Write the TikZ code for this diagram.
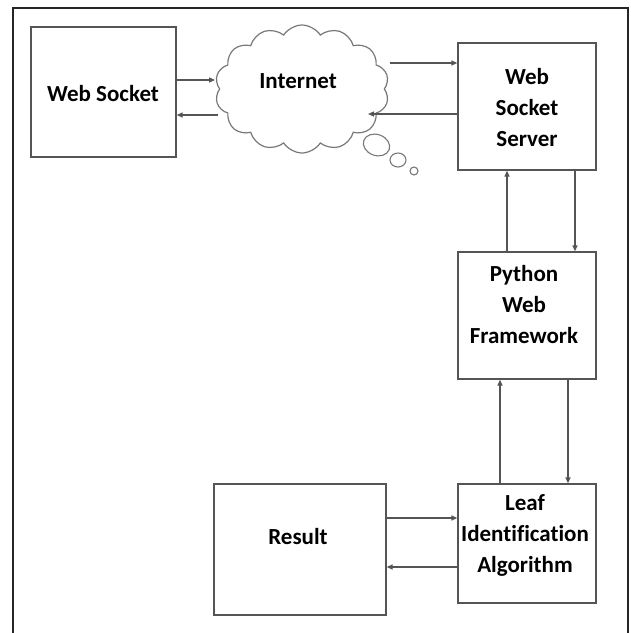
\documentclass[tikz,border=0pt]{standalone}
\usepackage{fontspec}
\setmainfont{Carlito}[Ligatures=NoCommon]
\usetikzlibrary{shapes.symbols,shapes.geometric,arrows.meta}
\definecolor{boxc}{RGB}{85,85,85}
\definecolor{cloudc}{RGB}{120,120,120}
\begin{document}
\begin{tikzpicture}[x=1pt,y=-1pt,
 box/.style={draw=boxc, line width=1.3pt, fill=white, inner sep=0pt},
 lbl/.style={font=\fontsize{23}{31}\selectfont\bfseries, align=center, text=black, inner sep=0pt},
 arr/.style={draw=boxc, line width=1.3pt, -{Triangle[length=6pt,width=5pt]}},
 bub/.style={draw=cloudc, line width=1.1pt, ellipse, inner sep=0pt}]

\useasboundingbox (0,0) rectangle (631,633);
\fill[white] (0,0) rectangle (631,633);
\draw[line width=1.5pt, black!85] (13,633) -- (13,8) -- (628,8) -- (628,633);

% boxes
\node[box, minimum width=145pt, minimum height=130pt] (ws) at (103.5,92) {};
\node[box, minimum width=138pt, minimum height=127pt] (wss) at (527,106.5) {};
\node[box, minimum width=138pt, minimum height=127pt] (pwf) at (527,315.5) {};
\node[box, minimum width=138pt, minimum height=119pt] (lia) at (527,543.5) {};
\node[box, minimum width=172pt, minimum height=131pt] (res) at (300,549.5) {};

% cloud
\node[cloud, draw=cloudc, line width=1.2pt, cloud puffs=14, cloud puff arc=115,
      aspect=1.37, minimum width=174pt, minimum height=128pt, inner sep=0pt] (cl) at (302,89) {};
\node[bub, minimum width=27pt, minimum height=21pt, rotate=-20] (b1) at (376.5,145) {};
\node[bub, minimum width=16pt, minimum height=14pt] (b2) at (398,160) {};
\node[bub, minimum width=8pt, minimum height=8pt] (b3) at (414,171) {};

% labels
\node[lbl] (ws-t) at (103,94) {Web Socket};
\node[lbl] (cl-t) at (298,81) {Internet};
\node[lbl] (wss-t) at (527,107.5) {Web\\Socket\\Server};
\node[lbl] (pwf-t) at (524,305) {Python\\Web\\Framework};
\node[lbl] (lia-t) at (525,535) {Leaf\\Identification\\Algorithm};
\node[lbl] (res-t) at (298,537) {Result};

% cloud connection points
\coordinate (cl-inL) at (215,80);
\coordinate (cl-outL) at (218,115);
\coordinate (cl-outR) at (390,63);
\coordinate (cl-inR) at (368,114);

% connectors
\draw[arr] (ws.east |- cl-inL) -- (cl-inL);
\draw[arr] (cl-outL) -- (ws.east |- cl-outL);
\draw[arr] (cl-outR) -- (wss.west |- cl-outR);
\draw[arr] (wss.west |- cl-inR) -- (cl-inR);
\draw[arr] (pwf.north -| 507,0) -- (wss.south -| 507,0);
\draw[arr] (wss.south -| 575,0) -- (pwf.north -| 575,0);
\draw[arr] (lia.north -| 500,0) -- (pwf.south -| 500,0);
\draw[arr] (pwf.south -| 568,0) -- (lia.north -| 568,0);
\draw[arr] (res.east |- 0,518) -- (lia.west |- 0,518);
\draw[arr] (lia.west |- 0,567) -- (res.east |- 0,567);
\end{tikzpicture}
\end{document}
